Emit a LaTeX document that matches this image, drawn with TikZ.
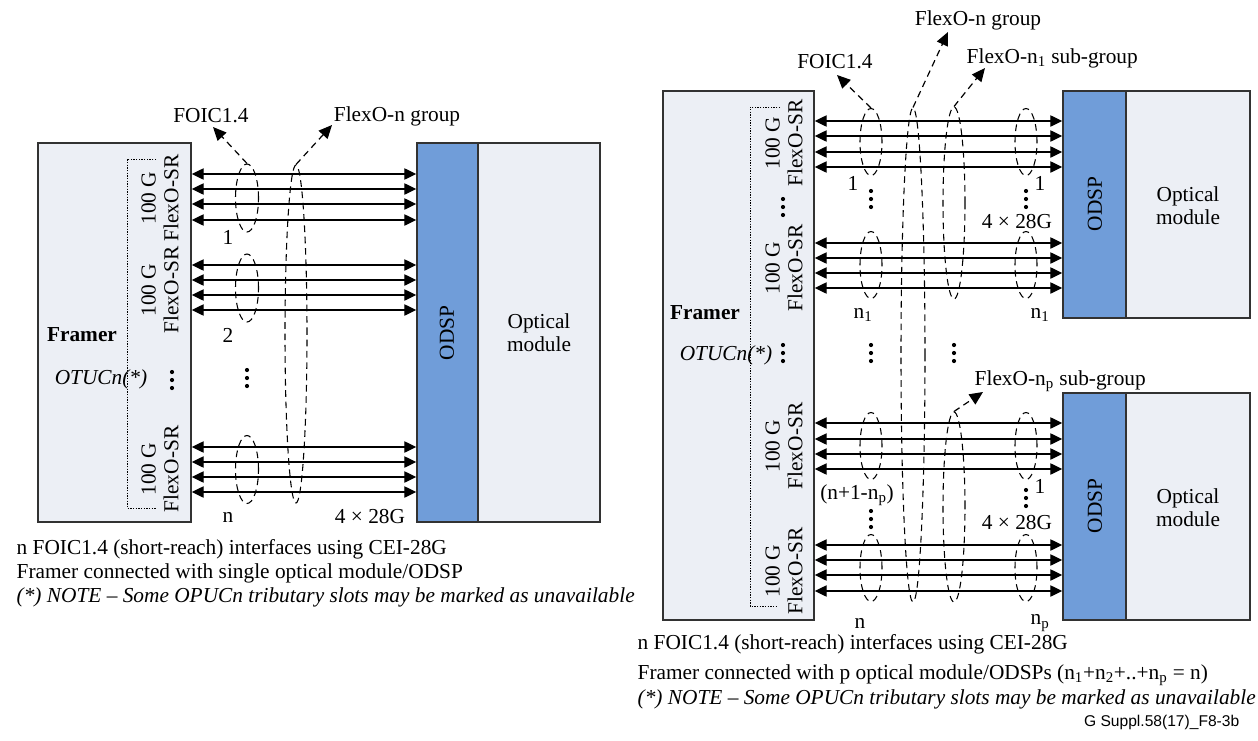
\documentclass[tikz,border=0pt]{standalone}
\usepackage{fontspec}
\setmainfont{Liberation Serif}
\newfontfamily\sansf{Liberation Sans}
\usetikzlibrary{arrows.meta,shapes.geometric,fit}
\definecolor{bordc}{RGB}{50,50,50}
\definecolor{lightc}{RGB}{236,239,245}
\definecolor{bluec}{RGB}{112,157,217}
\tikzset{
  lbox/.style={draw=bordc, fill=lightc, line width=1.1pt, inner sep=0pt},
  bbox/.style={draw=bordc, fill=bluec, line width=1.1pt, inner sep=0pt},
  biarr/.style={line width=1pt, {Triangle[length=9pt,width=8.5pt]}-{Triangle[length=9pt,width=8.5pt]}},
  dell/.style 2 args={ellipse, draw, line width=0.8pt, dash pattern=on 5pt off 3.5pt, inner sep=0pt, minimum width=#1*0.75pt, minimum height=#2*0.75pt},
  darr/.style={line width=0.9pt, dash pattern=on 5pt off 3.5pt, -{Triangle[length=10pt,width=9pt]}},
  brk/.style={line width=0.7pt, dash pattern=on 1pt off 1pt},
  rot/.style={rotate=90, align=center},
  vdts/.pic={\foreach \d in {-8,0,8} \fill (0,\d) circle[radius=2.1];}
}
\begin{document}
\begin{tikzpicture}[x=0.75pt,y=-0.75pt,font=\fontsize{16}{17}\selectfont]
\useasboundingbox (0,0) rectangle (1258,740);

% ================= LEFT DIAGRAM =================
\node[lbox, fit={(38,143) (191,522)}] (framerL) {};
\node[bbox, fit={(417,143) (478,522)}] (odspL) {};
\node[lbox, fit={(478,143) (600,522)}] (optL) {};
\draw[brk] (156,159) -- (127,159) -- (127,508) -- (156,508);

\node (framerLt) at (82,335) {\textbf{Framer}};
\node (otucL) at (101,379) {\textit{OTUCn(*)}};
\node[rot] (gL1) at (160,198) {100 G\\FlexO-SR};
\node[rot] (gL2) at (160,290) {100 G\\FlexO-SR};
\node[rot] (gLn) at (160,469) {100 G\\FlexO-SR};
\pic at (172,380) {vdts};
\pic at (247,378) {vdts};

\node[rot] (odspLt) at (447,333) {ODSP};
\node[align=center] (optLt) at (539,333) {Optical\\module};

\foreach \y in {174,189,204,220,265,280,295,310,447,462,477,492}
  \draw[biarr] (framerL.east |- 0,\y) -- (odspL.west |- 0,\y);

\node[dell={23}{68}] (eL1) at (247,198) {};
\node[dell={23}{68}] (eL2) at (247,288) {};
\node[dell={23}{68}] (eLn) at (247,469.5) {};
\node[dell={22}{338}] (eLg) at (296,334) {};

\node (l1L) at (228,237) {1};
\node (l2L) at (228,335) {2};
\node (lnL) at (228,517) {n};
\node (l28L) at (370,517) {4 × 28G};

\node (foicL) at (211,116) {FOIC1.4};
\node (grpL) at (397,116) {FlexO-n group};
\coordinate (tfoicL) at (213,127);
\coordinate (tgrpL) at (332,125);
\draw[darr] (eL1.north) -- (tfoicL);
\draw[darr] (eLg.north) -- (tgrpL);

\node[anchor=west] (capL1) at (12,549) {n FOIC1.4 (short-reach) interfaces using CEI-28G};
\node[anchor=west] (capL2) at (12,573) {Framer connected with single optical module/ODSP};
\node[anchor=west] (capL3) at (12,597) {\textit{(*) NOTE – Some OPUCn tributary slots may be marked as unavailable}};

% ================= RIGHT DIAGRAM =================
\node[lbox, fit={(663,91) (814,620)}] (framerR) {};
\node[bbox, fit={(1063,91) (1126,318)}] (odspR1) {};
\node[lbox, fit={(1126,91) (1250,318)}] (optR1) {};
\node[bbox, fit={(1063,393) (1126,620)}] (odspR2) {};
\node[lbox, fit={(1126,393) (1250,620)}] (optR2) {};
\draw[brk] (780,107) -- (750,107) -- (750,606) -- (778,606);

\node (framerRt) at (705,313) {\textbf{Framer}};
\node (otucR) at (726,355) {\textit{OTUCn(*)}};
\node[rot] (gR1) at (784,143) {100 G\\FlexO-SR};
\node[rot] (gR2) at (784,268) {100 G\\FlexO-SR};
\node[rot] (gR3) at (784,446) {100 G\\FlexO-SR};
\node[rot] (gR4) at (784,571) {100 G\\FlexO-SR};
\pic at (783,207) {vdts};
\pic at (783,353) {vdts};
\pic at (871,199) {vdts};
\pic at (1026,199) {vdts};
\pic at (871,353) {vdts};
\pic at (954,353) {vdts};
\pic at (871,519) {vdts};
\pic at (1026,498) {vdts};

\node[rot] (odspR1t) at (1095,204) {ODSP};
\node[align=center] (optR1t) at (1188,206) {Optical\\module};
\node[rot] (odspR2t) at (1095,506) {ODSP};
\node[align=center] (optR2t) at (1188,508) {Optical\\module};

\foreach \y in {121,136,152,167,243,258,273,288}
  \draw[biarr] (framerR.east |- 0,\y) -- (odspR1.west |- 0,\y);
\foreach \y in {423,439,454,469,545,560,575,591}
  \draw[biarr] (framerR.east |- 0,\y) -- (odspR2.west |- 0,\y);

\node[dell={22}{67}] (eR1) at (871,142) {};
\node[dell={22}{67}] (eR2) at (871,265) {};
\node[dell={22}{67}] (eR3) at (871,446) {};
\node[dell={22}{67}] (eR4) at (871,568) {};
\node[dell={22}{67}] (fR1) at (1026,142) {};
\node[dell={22}{67}] (fR2) at (1026,265) {};
\node[dell={22}{67}] (fR3) at (1026,446) {};
\node[dell={22}{67}] (fR4) at (1026,568) {};
\node[dell={24}{494}] (eRg) at (913,355) {};
\node[dell={22}{192}] (eRs1) at (954,203) {};
\node[dell={22}{190}] (eRsp) at (954,507) {};

\node (l1R) at (853,183) {1};
\node (r1R) at (1040,183) {1};
\node (r28R1) at (1017,222) {4 × 28G};
\node (ln1R) at (863,315) {n\textsubscript{1}};
\node (rn1R) at (1040,315) {n\textsubscript{1}};
\node (lnpR) at (857,495) {(n+1-n\textsubscript{p})};
\node (r1R2) at (1040,486) {1};
\node (r28R2) at (1017,523) {4 × 28G};
\node (lnR) at (860,623) {n};
\node (rnpR) at (1040,623) {n\textsubscript{p}};

\node (foicR) at (835,62) {FOIC1.4};
\node (grpR) at (978,20) {FlexO-n group};
\node[anchor=west] (sub1R) at (962,58) {FlexO-n\textsubscript{1} sub-group};
\node[anchor=west] (subpR) at (970,381) {FlexO-n\textsubscript{p} sub-group};
\coordinate (tfoicR) at (837,75);
\coordinate (tgrpR) at (948,32);
\coordinate (tsub1R) at (985,68);
\coordinate (tsubpR) at (983,392);
\draw[darr] (eR1.north) -- (tfoicR);
\draw[darr] (eRg.north) -- (tgrpR);
\draw[darr] (eRs1.north) -- (tsub1R);
\draw[darr] (eRsp.north) -- (tsubpR);

\node[anchor=west] (capR1) at (633,644) {n FOIC1.4 (short-reach) interfaces using CEI-28G};
\node[anchor=west] (capR2) at (633,675) {Framer connected with p optical module/ODSPs (n\textsubscript{1}+n\textsubscript{2}+..+n\textsubscript{p} = n)};
\node[anchor=west] (capR3) at (633,699) {\textit{(*) NOTE – Some OPUCn tributary slots may be marked as unavailable}};
\node[anchor=east, font=\sansf\fontsize{11.7}{13}\selectfont] (figid) at (1244,722) {G Suppl.58(17)\_F8-3b};
\end{tikzpicture}
\end{document}
